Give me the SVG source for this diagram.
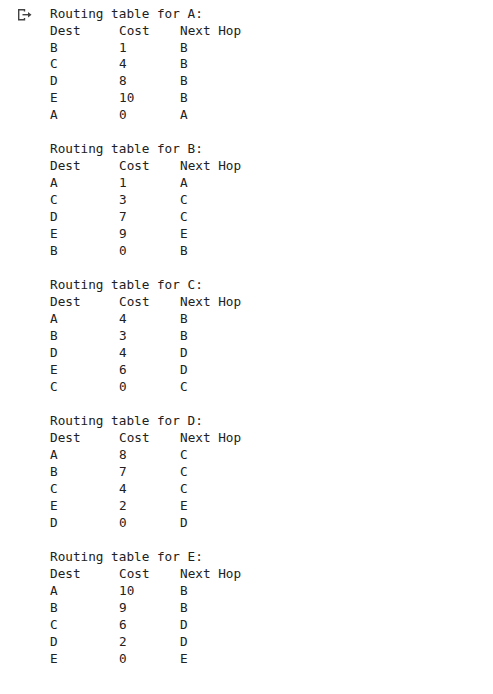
<svg xmlns="http://www.w3.org/2000/svg" width="493" height="694" viewBox="0 0 493 694">
<style>
text{font-family:"DejaVu Sans Mono","Liberation Mono",monospace;font-size:12.7px;fill:#212121}
.icon{fill:none;stroke:#424242;stroke-width:1.4}
</style>
<rect width="493" height="694" fill="#ffffff"/>
<g id="output-icon">
<path class="icon" d="M24.5 11.5 V9.7 H18.7 V19.8 H24.5 V18"/>
<path class="icon" d="M22.5 14.7 H28.5"/>
<path d="M28 12 L31.5 14.7 L28 17.4 Z" fill="#424242"/>
</g>
<g id="table-A">
<text x="50" y="17.5">Routing table for A:</text>
<text y="34.5"><tspan x="50">Dest</tspan><tspan x="119">Cost</tspan><tspan x="180">Next Hop</tspan></text>
<text y="51.5"><tspan x="50">B</tspan><tspan x="119">1</tspan><tspan x="180">B</tspan></text>
<text y="68.4"><tspan x="50">C</tspan><tspan x="119">4</tspan><tspan x="180">B</tspan></text>
<text y="85.4"><tspan x="50">D</tspan><tspan x="119">8</tspan><tspan x="180">B</tspan></text>
<text y="102.4"><tspan x="50">E</tspan><tspan x="119">10</tspan><tspan x="180">B</tspan></text>
<text y="119.4"><tspan x="50">A</tspan><tspan x="119">0</tspan><tspan x="180">A</tspan></text>
</g>
<g id="table-B">
<text x="50" y="153.3">Routing table for B:</text>
<text y="170.3"><tspan x="50">Dest</tspan><tspan x="119">Cost</tspan><tspan x="180">Next Hop</tspan></text>
<text y="187.3"><tspan x="50">A</tspan><tspan x="119">1</tspan><tspan x="180">A</tspan></text>
<text y="204.3"><tspan x="50">C</tspan><tspan x="119">3</tspan><tspan x="180">C</tspan></text>
<text y="221.3"><tspan x="50">D</tspan><tspan x="119">7</tspan><tspan x="180">C</tspan></text>
<text y="238.2"><tspan x="50">E</tspan><tspan x="119">9</tspan><tspan x="180">E</tspan></text>
<text y="255.2"><tspan x="50">B</tspan><tspan x="119">0</tspan><tspan x="180">B</tspan></text>
</g>
<g id="table-C">
<text x="50" y="289.2">Routing table for C:</text>
<text y="306.2"><tspan x="50">Dest</tspan><tspan x="119">Cost</tspan><tspan x="180">Next Hop</tspan></text>
<text y="323.1"><tspan x="50">A</tspan><tspan x="119">4</tspan><tspan x="180">B</tspan></text>
<text y="340.1"><tspan x="50">B</tspan><tspan x="119">3</tspan><tspan x="180">B</tspan></text>
<text y="357.1"><tspan x="50">D</tspan><tspan x="119">4</tspan><tspan x="180">D</tspan></text>
<text y="374.1"><tspan x="50">E</tspan><tspan x="119">6</tspan><tspan x="180">D</tspan></text>
<text y="391.1"><tspan x="50">C</tspan><tspan x="119">0</tspan><tspan x="180">C</tspan></text>
</g>
<g id="table-D">
<text x="50" y="425">Routing table for D:</text>
<text y="442"><tspan x="50">Dest</tspan><tspan x="119">Cost</tspan><tspan x="180">Next Hop</tspan></text>
<text y="459"><tspan x="50">A</tspan><tspan x="119">8</tspan><tspan x="180">C</tspan></text>
<text y="476"><tspan x="50">B</tspan><tspan x="119">7</tspan><tspan x="180">C</tspan></text>
<text y="492.9"><tspan x="50">C</tspan><tspan x="119">4</tspan><tspan x="180">C</tspan></text>
<text y="509.9"><tspan x="50">E</tspan><tspan x="119">2</tspan><tspan x="180">E</tspan></text>
<text y="526.9"><tspan x="50">D</tspan><tspan x="119">0</tspan><tspan x="180">D</tspan></text>
</g>
<g id="table-E">
<text x="50" y="560.9">Routing table for E:</text>
<text y="577.8"><tspan x="50">Dest</tspan><tspan x="119">Cost</tspan><tspan x="180">Next Hop</tspan></text>
<text y="594.8"><tspan x="50">A</tspan><tspan x="119">10</tspan><tspan x="180">B</tspan></text>
<text y="611.8"><tspan x="50">B</tspan><tspan x="119">9</tspan><tspan x="180">B</tspan></text>
<text y="628.8"><tspan x="50">C</tspan><tspan x="119">6</tspan><tspan x="180">D</tspan></text>
<text y="645.8"><tspan x="50">D</tspan><tspan x="119">2</tspan><tspan x="180">D</tspan></text>
<text y="662.7"><tspan x="50">E</tspan><tspan x="119">0</tspan><tspan x="180">E</tspan></text>
</g>
</svg>
